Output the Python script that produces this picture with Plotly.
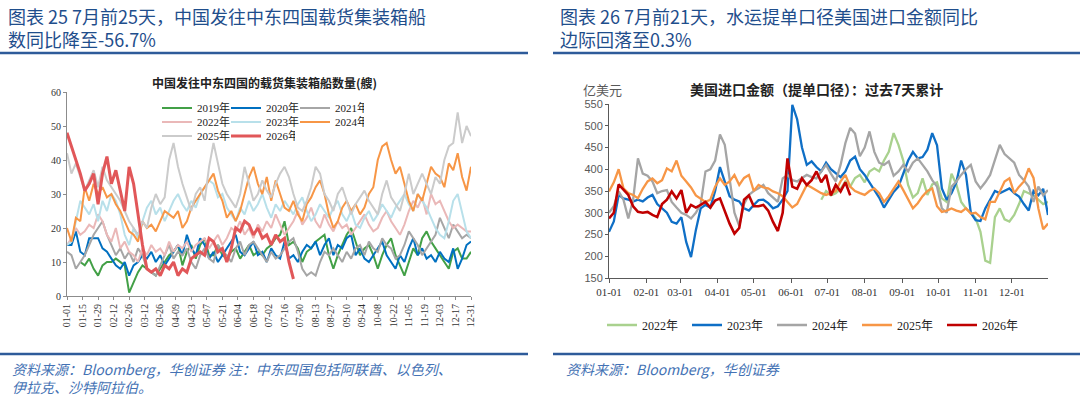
import pandas as pd
import plotly.graph_objects as go

W, H = 1080, 411

# ---- 左图：中国发往中东四国的载货集装箱船数量(艘)，每4天取一点 ----
ships_years = ["2019年", "2020年", "2021年", "2022年", "2023年", "2024年", "2025年", "2026年"]
ships_start = ["2021-01-13", "2021-01-01", "2021-01-01", "2021-01-01",
               "2021-01-01", "2021-01-01", "2021-01-01", "2021-01-01"]

ships_2019 = [10, 9, 11, 8, 6, 9, 10, 10, 11, 10,
              9, 1, 4, 7, 9, 8, 7, 6, 8, 10,
              12, 13, 15, 9, 13, 15, 11, 15, 17, 12,
              12, 15, 12, 11, 13, 14, 11, 13, 15, 12,
              13, 12, 14, 15, 17, 18, 22, 15, 16, 14,
              10, 13, 14, 16, 17, 18, 12, 8, 12, 15,
              18, 20, 16, 12, 14, 15, 12, 8, 12, 15,
              17, 12, 9, 6, 10, 14, 12, 17, 19, 16,
              14, 12, 10, 8, 13, 14, 11, 11, 13]
ships_2020 = [15, 15, 19, 13, 12, 17, 17, 17, 14, 13,
              11, 9, 8, 10, 6, 9, 10, 12, 11, 13,
              10, 12, 9, 11, 13, 15, 12, 18, 14, 12,
              17, 15, 11, 13, 10, 12, 14, 16, 18, 13,
              12, 14, 16, 12, 13, 10, 14, 12, 11, 16,
              11, 12, 10, 13, 15, 14, 16, 12, 15, 17,
              12, 15, 14, 17, 18, 12, 14, 11, 10, 12,
              14, 16, 12, 10, 8, 12, 10, 14, 17, 12,
              14, 11, 12, 10, 13, 11, 10, 14, 8, 11,
              15, 16]
ships_2021 = [13, 12, 8, 10, 12, 15, 18, 20, 22, 18,
              15, 12, 14, 11, 13, 10, 14, 12, 8, 7,
              6, 9, 12, 15, 11, 13, 12, 14, 10, 8,
              12, 14, 11, 10, 15, 13, 12, 10, 14, 16,
              12, 15, 16, 14, 12, 10, 13, 11, 12, 14,
              16, 17, 13, 8, 6, 7, 6, 10, 13, 12,
              14, 12, 10, 13, 11, 14, 15, 12, 16, 14,
              13, 17, 15, 14, 11, 12, 15, 19, 17, 15,
              12, 14, 16, 18, 23, 20, 17, 21, 19, 17,
              18, 17]
ships_2022 = [15, 17, 20, 18, 19, 21, 20, 24, 22, 18,
              16, 20, 14, 16, 13, 12, 10, 14, 12, 15,
              13, 14, 12, 16, 13, 15, 14, 16, 13, 15,
              16, 17, 14, 16, 18, 15, 17, 20, 19, 22,
              18, 20, 17, 21, 19, 22, 20, 24, 21, 18,
              20, 22, 25, 21, 23, 26, 22, 20, 24, 21,
              19, 22, 20, 21, 18, 20, 22, 24, 21, 19,
              20, 23, 25, 22, 20, 18, 21, 25, 28, 26,
              29, 24, 30, 27, 28, 25, 22, 20, 21, 20,
              19, 19]
ships_2023 = [15, 16, 22, 28, 26, 24, 27, 22, 28, 25,
              30, 28, 24, 18, 15, 20, 17, 22, 26, 28,
              24, 26, 22, 25, 28, 30, 27, 25, 28, 26,
              30, 32, 34, 33, 29, 30, 26, 24, 22, 26,
              24, 28, 25, 27, 30, 26, 23, 27, 25, 28,
              26, 24, 27, 29, 25, 22, 24, 27, 25, 23,
              26, 28, 24, 22, 25, 21, 20, 23, 25, 22,
              24, 27, 25, 23, 26, 28, 30, 27, 25, 30,
              28, 26, 23, 20, 18, 17, 22, 28, 30, 24,
              19, 17]
ships_2024 = [20, 16, 23, 22, 32, 28, 33, 30, 32, 29,
              30, 27, 25, 22, 19, 18, 16, 22, 20, 21,
              19, 22, 25, 24, 23, 25, 20, 22, 26, 28,
              30, 32, 34, 36, 31, 28, 23, 25, 22, 25,
              30, 35, 38, 33, 30, 35, 28, 34, 30, 26,
              25, 28, 24, 22, 27, 29, 32, 34, 30, 24,
              20, 22, 26, 28, 25, 27, 24, 26, 30, 32,
              40, 44, 45, 40, 36, 38, 33, 28, 25, 30,
              28, 33, 38, 36, 35, 32, 39, 37, 42, 35,
              31, 38]
ships_2025 = [42, 36, 39, 35, 31, 34, 37, 32, 38, 34,
              32, 30, 28, 25, 22, 20, 18, 22, 20, 26,
              30, 27, 29, 40, 45, 38, 33, 29, 25, 30,
              32, 28, 38, 45, 39, 33, 30, 28, 26, 30,
              38, 33, 28, 30, 34, 31, 29, 33, 36, 38,
              35, 30, 26, 25, 28, 32, 38, 36, 30, 28,
              25, 30, 32, 28, 24, 27, 29, 31, 28, 26,
              24, 30, 34, 29, 27, 25, 30, 36, 30, 33,
              36, 33, 30, 35, 33, 40, 44, 45, 54, 45,
              50, 47]
ships_2026 = [48, 44, 40, 36, 31, 33, 36, 27, 36, 41,
              33, 37, 31, 25, 38, 33, 24, 15, 8, 7,
              8, 6, 9, 8, 10, 6, 8, 7, 11, 12,
              13, 12, 17, 16, 13, 14, 10, 14, 20, 19,
              22, 21, 18, 20, 17, 18, 15, 18, 16, 17,
              10, 5]
ships_values = [ships_2019, ships_2020, ships_2021, ships_2022,
                ships_2023, ships_2024, ships_2025, ships_2026]

# ---- 右图：美国进口金额（提单口径）过去7天累计，亿美元，每4天取一点 ----
imp_years = ["2022年", "2023年", "2024年", "2025年", "2026年"]
imp_start = ["2021-06-26", "2021-01-01", "2021-01-01", "2021-01-01", "2021-01-01"]

imp_2022 = [330, 350, 340, 345, 355, 372, 360, 380, 387, 370,
            395, 402, 395, 420, 440, 483, 456, 420, 364, 335,
            345, 379, 341, 365, 370, 333, 325, 390, 365, 325,
            310, 300, 287, 256, 190, 185, 290, 310, 285, 280,
            295, 320, 350, 345, 340, 330, 320, 325]
imp_2023 = [256, 280, 341, 333, 330, 326, 330, 326, 335, 341,
            320, 310, 300, 279, 275, 290, 233, 198, 260, 310,
            318, 312, 350, 405, 370, 338, 330, 326, 310, 305,
            318, 329, 330, 322, 310, 315, 330, 350, 548, 515,
            450, 410, 418, 405, 395, 415, 400, 390, 382, 395,
            420, 429, 400, 387, 370, 350, 335, 312, 330, 348,
            360, 390, 420, 440, 425, 428, 445, 483, 455, 356,
            330, 345, 370, 420, 387, 300, 283, 281, 310, 330,
            350, 345, 350, 356, 345, 337, 320, 305, 350, 340,
            355, 295]
imp_2024 = [300, 315, 349, 330, 287, 330, 425, 390, 385, 372,
            345, 350, 352, 325, 312, 300, 295, 287, 300, 320,
            395, 400, 420, 480, 456, 379, 300, 270, 320, 341,
            350, 356, 364, 345, 335, 325, 379, 387, 375, 372,
            380, 387, 382, 379, 395, 410, 390, 372, 410, 460,
            495, 482, 430, 450, 487, 440, 415, 410, 418, 385,
            395, 410, 395, 415, 425, 410, 395, 375, 360, 310,
            300, 360, 372, 387, 400, 410, 372, 356, 370, 387,
            420, 456, 435, 425, 415, 387, 375, 360, 325, 360,
            340, 352]
imp_2025 = [349, 370, 400, 356, 345, 341, 333, 355, 372, 379,
            368, 375, 402, 395, 420, 385, 372, 358, 340, 333,
            325, 330, 360, 379, 364, 372, 387, 364, 380, 387,
            350, 364, 358, 356, 349, 345, 338, 325, 312, 320,
            341, 364, 358, 352, 345, 341, 345, 350, 372, 387,
            360, 350, 345, 341, 350, 356, 345, 325, 338, 355,
            372, 352, 330, 310, 322, 338, 350, 356, 315, 302,
            305, 310, 305, 302, 310, 298, 300, 290, 285, 325,
            325, 350, 372, 379, 345, 360, 372, 402, 380, 310,
            262, 275]
imp_2026 = [287, 300, 365, 352, 341, 315, 302, 300, 302, 295,
            290, 320, 330, 349, 333, 352, 300, 318, 312, 318,
            325, 312, 328, 333, 305, 275, 252, 265, 330, 340,
            315, 315, 318, 305, 279, 258, 300, 425, 360, 355,
            379, 364, 375, 395, 370, 387, 340, 364, 349, 370,
            340]
imp_values = [imp_2022, imp_2023, imp_2024, imp_2025, imp_2026]

ships_colors = ["#43a047", "#0070c0", "#a6a6a6", "#eab8b8",
                "#b8e0ea", "#f79646", "#cbcbcb", "#e15759"]
ships_widths = [2, 2, 2, 2, 2, 2, 2, 3]
ships_legend = ["legend", "legend", "legend", "legend2",
                "legend2", "legend2", "legend3", "legend3"]
imp_colors = ["#a9d18e", "#0f6fc6", "#a5a5a5", "#f79646", "#c00000"]


def px_x(p):
    return p / W


def px_y(p):
    return 1 - p / H


fig = go.Figure()

for name, start, vals, col, lw, lg in zip(ships_years, ships_start, ships_values,
                                          ships_colors, ships_widths, ships_legend):
    fig.add_trace(go.Scatter(
        x=pd.date_range(start, periods=len(vals), freq="4D"), y=vals,
        mode="lines", name=name, line=dict(color=col, width=lw),
        xaxis="x", yaxis="y", legend=lg
    ))

for name, start, vals, col in zip(imp_years, imp_start, imp_values, imp_colors):
    fig.add_trace(go.Scatter(
        x=pd.date_range(start, periods=len(vals), freq="4D"), y=vals,
        mode="lines", name=name, line=dict(color=col, width=2.3 if name != "2026年" else 2.6),
        xaxis="x2", yaxis="y2", legend="legend4"
    ))

serif = "Liberation Serif, Noto Sans CJK SC"
sans = "Liberation Sans, Noto Sans CJK SC"
cjk = "Noto Sans CJK SC"

axis_common = dict(showgrid=False, zeroline=False, showline=True,
                   ticks="outside", ticklen=3)

fig.update_layout(
    width=W, height=H,
    margin=dict(l=0, r=0, t=0, b=0, autoexpand=False),
    paper_bgcolor="white", plot_bgcolor="white",
    showlegend=True,
    xaxis=dict(axis_common, domain=[px_x(67), px_x(471)], type="date",
               range=["2021-01-01", "2021-12-31"], tick0="2021-01-01",
               dtick=14 * 86400000, tickformat="%m-%d", tickangle=-90,
               linecolor="#8c8c8c", tickcolor="#8c8c8c",
               tickfont=dict(family=serif, size=10, color="#333333")),
    yaxis=dict(axis_common, domain=[px_y(296), px_y(92)], range=[0, 60], dtick=10,
               linecolor="#8c8c8c", tickcolor="#8c8c8c",
               tickfont=dict(family=serif, size=10, color="#333333")),
    xaxis2=dict(axis_common, domain=[px_x(609), px_x(1048)], type="date",
                range=["2021-01-01", "2021-12-31"], tick0="2021-01-01", dtick="M1",
                tickformat="%m-%d", anchor="y2",
                linecolor="#595959", tickcolor="#595959", ticklen=4,
                tickfont=dict(family=serif, size=11, color="#333333")),
    yaxis2=dict(axis_common, domain=[px_y(278), px_y(104)], range=[150, 550], dtick=50,
                anchor="x2", linecolor="#595959", tickcolor="#595959",
                tickfont=dict(family=sans, size=11, color="#595959")),
)

leg_common = dict(orientation="h", xanchor="left", yanchor="middle",
                  entrywidthmode="pixels", itemwidth=30, traceorder="normal",
                  bgcolor="rgba(0,0,0,0)", borderwidth=0,
                  font=dict(family=serif, size=11, color="#222222"))
fig.update_layout(
    legend=dict(leg_common, x=px_x(157), y=px_y(108), entrywidth=24),
    legend2=dict(leg_common, x=px_x(157), y=px_y(122), entrywidth=24),
    legend3=dict(leg_common, x=px_x(157), y=px_y(136), entrywidth=24),
    legend4=dict(leg_common, x=px_x(602), y=px_y(325), entrywidth=40,
                 font=dict(family=serif, size=12, color="#222222")),
)

title_col = "#1f4e8c"
src_col = "#4472b4"
sp = "\u00a0"
titles = [
    (6, f"图表{sp}25{sp}7月前25天，中国发往中东四国载货集装箱船<br>数同比降至-56.7%"),
    (558, f"图表{sp}26{sp}7月前21天，水运提单口径美国进口金额同比<br>边际回落至0.3%"),
]
for x, txt in titles:
    fig.add_annotation(x=px_x(x), y=px_y(27), xref="paper", yref="paper",
                       xanchor="left", yanchor="middle", align="left", showarrow=False,
                       text=txt, font=dict(family=cjk, size=18, color=title_col))

sources = [
    (10, 357, "<i>资料来源：Bloomberg，华创证券 注：中东四国包括阿联酋、以色列、<br>伊拉克、沙特阿拉伯。</i>"),
    (564, 357, "<i>资料来源：Bloomberg，华创证券</i>"),
]
for x, y, txt in sources:
    fig.add_annotation(x=px_x(x), y=px_y(y), xref="paper", yref="paper",
                       xanchor="left", yanchor="top", align="left", showarrow=False,
                       text=txt, font=dict(family=cjk, size=14, color=src_col))

fig.add_annotation(x=px_x(264), y=px_y(83), xref="paper", yref="paper",
                   showarrow=False, xanchor="center", yanchor="middle",
                   text="<b>中国发往中东四国的载货集装箱船数量(艘)</b>",
                   font=dict(family=cjk, size=12, color="#222222"))
fig.add_annotation(x=px_x(816), y=px_y(89), xref="paper", yref="paper",
                   showarrow=False, xanchor="center", yanchor="middle",
                   text="<b>美国进口金额（提单口径）：过去7天累计</b>",
                   font=dict(family=cjk, size=14, color="#222222"))
fig.add_annotation(x=px_x(581), y=px_y(89), xref="paper", yref="paper",
                   showarrow=False, xanchor="left", yanchor="middle",
                   text="亿美元", font=dict(family=cjk, size=13, color="#595959"))

# ---- 分隔线 ----
for x0, x1 in [(0, 528), (553, 1080)]:
    for y in (53, 354):
        fig.add_shape(type="line", xref="paper", yref="paper",
                      x0=px_x(x0), x1=px_x(x1), y0=px_y(y), y1=px_y(y),
                      line=dict(color="#2e5b9a", width=2.5))

fig.write_html("out.html", config={"displayModeBar": False},
               post_script="document.body.style.margin='0';")
